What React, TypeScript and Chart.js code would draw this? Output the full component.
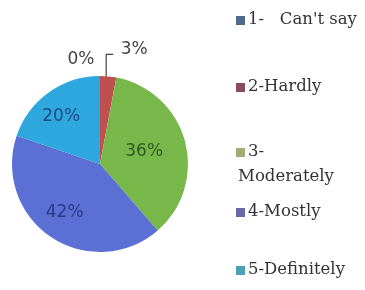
import React, { useEffect, useRef } from "react";
import { Chart, registerables } from "chart.js";

Chart.register(...registerables);

const categories = ["1-   Can't say", "2-Hardly", "3-\nModerately", "4-Mostly", "5-Definitely"];
const values = [0, 3, 36, 42, 20];
const percentLabels = ["0%", "3%", "36%", "42%", "20%"];
const sliceColors = ["#4a6f9a", "#c0504d", "#78b84a", "#5b6fd4", "#2ea6de"];
const legendColors = ["#4d6c8c", "#8c4b5a", "#9caf72", "#6a68a8", "#4aa3b4"];
const labelColors = ["#444444", "#444444", "#2f5a22", "#283a86", "#1f4a86"];
const legendY = [20, 87, 152, 212, 270];

const overlayPlugin = {
  id: "overlay",
  afterDatasetsDraw(chart: any) {
    const ctx = chart.ctx;
    const meta = chart.getDatasetMeta(0);
    ctx.save();
    ctx.font = "17px 'DejaVu Sans'";
    ctx.textAlign = "center";
    ctx.textBaseline = "middle";
    meta.data.forEach((arc: any, i: number) => {
      const p = arc.getProps(["x", "y", "startAngle", "endAngle", "outerRadius"], true);
      const mid = (p.startAngle + p.endAngle) / 2;
      ctx.fillStyle = labelColors[i];
      if (i === 0) {
        ctx.fillText(percentLabels[i], p.x - 19, p.y - p.outerRadius - 16);
      } else if (i === 1) {
        const ex = p.x + Math.cos(mid) * p.outerRadius - 2;
        const ey = p.y + Math.sin(mid) * p.outerRadius;
        ctx.strokeStyle = "#444444";
        ctx.lineWidth = 1.2;
        ctx.beginPath();
        ctx.moveTo(ex, ey);
        ctx.lineTo(ex, ey - 22);
        ctx.lineTo(ex + 7, ey - 22);
        ctx.stroke();
        ctx.fillText(percentLabels[i], ex + 28, ey - 27);
      } else {
        const f = i === 2 ? 0.52 : 0.66;
        const dx = i === 4 ? -5 : i === 3 ? -3 : 0;
        const x = p.x + Math.cos(mid) * p.outerRadius * f + dx;
        const y = p.y + Math.sin(mid) * p.outerRadius * f;
        ctx.fillText(percentLabels[i], x, y);
      }
    });
    // legend
    ctx.textAlign = "left";
    ctx.font = "16.5px 'DejaVu Serif'";
    categories.forEach((c, i) => {
      const y = legendY[i];
      ctx.fillStyle = legendColors[i];
      ctx.fillRect(236, y - 4, 9, 9);
      ctx.fillStyle = "#333333";
      const lines = c.split("\n");
      lines.forEach((ln, j) => {
        ctx.fillText(ln, j === 0 ? 248 : 238, y + j * 25);
      });
    });
    ctx.restore();
  },
};

export default function App() {
  const ref = useRef<HTMLCanvasElement>(null);
  useEffect(() => {
    if (!ref.current) return;
    const chart = new Chart(ref.current, {
      type: "pie",
      data: {
        labels: categories,
        datasets: [
          {
            data: values,
            backgroundColor: sliceColors,
            borderWidth: 0,
          },
        ],
      },
      options: {
        animation: false,
        responsive: false,
        layout: { padding: { left: 12, right: 177, top: 76, bottom: 38 } },
        plugins: {
          legend: { display: false },
          tooltip: { enabled: false },
        },
      },
      plugins: [overlayPlugin],
    });
    return () => chart.destroy();
  }, []);
  return (
    <div style={{ position: "fixed", left: 0, top: 0, width: 365, height: 290, background: "#fff" }}>
      <canvas ref={ref} width={365} height={290} />
    </div>
  );
}
